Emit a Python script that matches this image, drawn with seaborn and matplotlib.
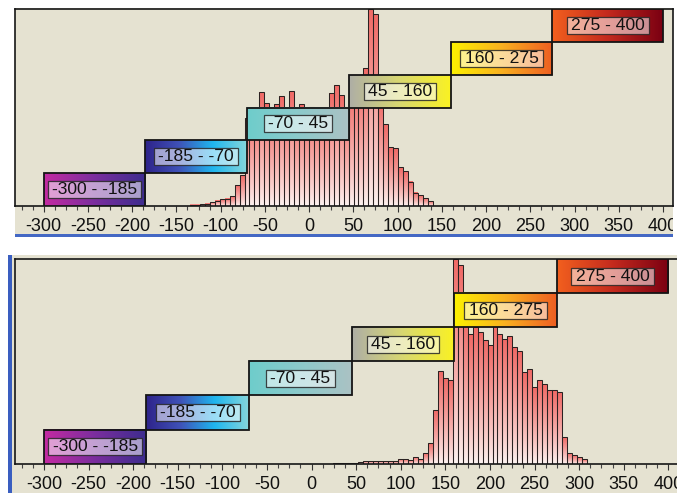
import numpy as np
import pandas as pd
import matplotlib
matplotlib.use("Agg")
import matplotlib.pyplot as plt
import seaborn as sns
from matplotlib.patches import Rectangle
from matplotlib.path import Path
from matplotlib.colors import LinearSegmentedColormap, to_rgb
from matplotlib.ticker import MultipleLocator, FixedLocator
from matplotlib.transforms import Bbox, TransformedBbox

# ---------------- data ----------------
range_lo = [-300, -185, -70, 45, 160, 275]
range_hi = [-185, -70, 45, 160, 275, 400]
range_labels = ["-300 - -185", "-185 - -70", "-70 - 45", "45 - 160", "160 - 275", "275 - 400"]
tick_values = [-300, -250, -200, -150, -100, -50, 0, 50, 100, 150, 200, 250, 300, 350, 400]

bin_width = 5.6
top_start = -134.6
top_counts = [1.5, 1.5, 2, 2.5, 4, 5.3, 7, 7.3, 10, 21, 31,
              88, 94, 97, 114, 103, 96, 102, 110, 97, 115, 98, 102, 96, 99,
              97, 98, 96, 113, 121, 111, 99, 118, 124, 127, 138, 197, 192,
              108, 82, 59, 58, 39, 35, 24.5, 13.3, 11, 8, 5]
bottom_start = 23.7
bottom_counts = [1, 1, 1, 1, 1, 1.5, 2.5, 2.5, 2.5, 2.5, 2.5, 3, 3, 5, 5, 4, 7, 5,
                 11, 21, 54, 93, 86, 83.5, 205, 198.5, 148, 130, 137, 132, 124,
                 119, 142, 130, 125, 128, 117, 113, 92, 95, 77, 84, 80, 74, 74,
                 72, 27, 11, 9, 7, 4.7]

# ---------------- style ----------------
W, H = 677, 493
BEIGE = "#E5E2D1"
box_colors = [
    ["#C42AA2", "#7A2E9E", "#3C2C8E"],
    ["#2E238A", "#3F52B8", "#1FB6EE", "#86D6DC"],
    ["#6ECDCB", "#8CCACB", "#ABC2C4"],
    ["#AEAEA6", "#D9D870", "#FAF222"],
    ["#FDF200", "#F9B020", "#EE5E22"],
    ["#F2601E", "#C42A1E", "#7A0012"],
]
bar_top = np.array(to_rgb("#F06A66"))
bar_bottom = np.array(to_rgb("#FDF3F1"))

sns.set_style("white")
plt.rcParams["font.family"] = ["Liberation Sans", "DejaVu Sans"]
plt.rcParams["axes.unicode_minus"] = False

fig = plt.figure(figsize=(W / 100, H / 100), dpi=100)
fig.patch.set_facecolor("white")


def fx(x):
    return x / W


def fy(y):
    return 1 - y / H


# panel backgrounds & window accents
fig.add_artist(Rectangle((fx(15), fy(234)), fx(658), 226 / H, transform=fig.transFigure,
                         fc=BEIGE, ec="none", zorder=0))
fig.add_artist(Rectangle((fx(15), fy(236.5)), fx(658), 2.5 / H, transform=fig.transFigure,
                         fc="#4468C4", ec="none", zorder=0))
fig.add_artist(Rectangle((fx(12), 0), fx(665), 238 / H, transform=fig.transFigure,
                         fc=BEIGE, ec="none", zorder=0))
fig.add_artist(Rectangle((fx(8), 0), fx(3.5), 238 / H, transform=fig.transFigure,
                         fc="#3A5EC0", ec="none", zorder=0))


def label_box(x0, y0, width, height, mutation_size):
    padx = 0.24 * mutation_size
    pady = 0.06 * mutation_size
    x0 -= padx
    width += 2 * padx
    y0 -= pady
    height += 2 * pady
    return Path([(x0, y0), (x0 + width, y0), (x0 + width, y0 + height),
                 (x0, y0 + height), (x0, y0)], closed=True)


def draw_panel(ax, start, counts, right_spine=True):
    counts = np.asarray(counts, dtype=float)
    edges = start + bin_width * np.arange(len(counts) + 1)
    centers = edges[:-1] + bin_width / 2
    df = pd.DataFrame({"value": centers, "count": counts})
    sns.histplot(data=df, x="value", weights="count", bins=edges.tolist(), ax=ax,
                 stat="count", color="#F06A66", edgecolor="#2A2222",
                 linewidth=0.75, alpha=1)
    ymax = counts.max()
    t = np.linspace(0, 1, 64)
    f = t ** 0.85
    col = bar_bottom[None, :] * (1 - f[:, None]) + bar_top[None, :] * f[:, None]
    grad = col[:, None, :]
    for p in list(ax.patches):
        x, w, h = p.get_x(), p.get_width(), p.get_height()
        p.set_facecolor("none")
        p.set_zorder(2)
        ax.imshow(grad, extent=[x, x + w, 0, h], origin="lower", aspect="auto",
                  interpolation="bilinear", zorder=1.5)

    for i, (lo, hi, lab, cols) in enumerate(zip(range_lo, range_hi, range_labels, box_colors)):
        y0 = i * ymax / 6
        y1 = (i + 1) * ymax / 6
        cmap = LinearSegmentedColormap.from_list("b%d" % i, cols)
        g = cmap(np.linspace(0, 1, 256))[None, :, :]
        ax.imshow(g, extent=[lo, hi, y0, y1], aspect="auto", zorder=3,
                  interpolation="bilinear")
        ax.add_patch(Rectangle((lo, y0), hi - lo, y1 - y0, fill=False,
                               ec="#151515", lw=1.3, zorder=3.5))
        ax.text((lo + hi) / 2, (y0 + y1) / 2, lab, ha="center", va="center",
                fontsize=12.6, color="#111111", zorder=4,
                bbox=dict(boxstyle=label_box, fc=(1, 1, 1, 0.55),
                          ec=(0.15, 0.15, 0.15, 0.85), lw=0.9))

    ax.set_xlim(-332.4, 411.3)
    ax.set_ylim(0, ymax)
    ax.set_facecolor(BEIGE)
    ax.set_xlabel("")
    ax.set_ylabel("")
    ax.set_yticks([])
    ax.xaxis.set_major_locator(FixedLocator(tick_values))
    ax.xaxis.set_minor_locator(MultipleLocator(12.5))
    ax.tick_params(axis="x", which="major", direction="out", length=4.5, width=0.8,
                   color="#333333", labelsize=13, pad=4.0, labelcolor="#111111", bottom=True)
    ax.tick_params(axis="x", which="minor", direction="out", length=2.8, width=0.8,
                   color="#444444", bottom=True)
    for s in ["left", "top", "right", "bottom"]:
        ax.spines[s].set_color("#161616")
        ax.spines[s].set_linewidth(1.2)
        ax.spines[s].set_visible(True)
    if not right_spine:
        ax.spines["right"].set_visible(False)


ax1 = fig.add_axes([fx(15), fy(206), fx(658), 197 / H])
draw_panel(ax1, top_start, top_counts)
ax2 = fig.add_axes([fx(15), fy(463.7), 663.4 / W, 204.7 / H])
draw_panel(ax2, bottom_start, bottom_counts, right_spine=False)

fig.canvas.draw()
clip = TransformedBbox(Bbox([[fx(15), 0], [fx(673), 1]]), fig.transFigure)
for tick in ax1.xaxis.get_major_ticks():
    tick.label1.set_clip_on(True)
    tick.label1.set_clip_box(clip)

fig.savefig("out.png", dpi=100, facecolor="white")
